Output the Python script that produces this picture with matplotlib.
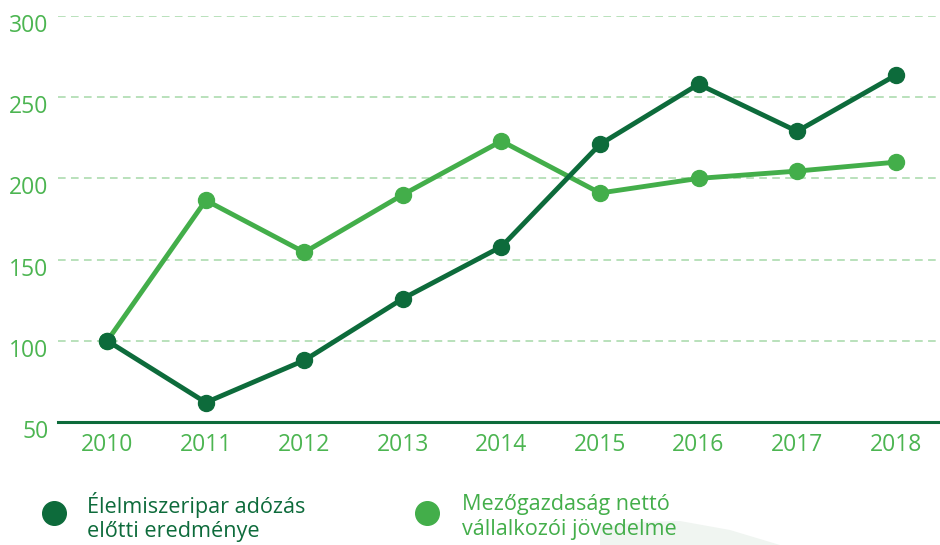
#!/usr/bin/env python3
"""Élelmiszeripar vs. mezőgazdaság index chart (2010 = 100)."""

import matplotlib

matplotlib.use("Agg")
import matplotlib.pyplot as plt  # noqa: E402
from matplotlib.lines import Line2D  # noqa: E402
from matplotlib.patches import Polygon  # noqa: E402
from matplotlib.transforms import ScaledTranslation  # noqa: E402

DARK = "#0d6b3b"
LIGHT = "#43ae4a"
TICK = "#4cb551"
GRID = "#a6d9a8"

years = [2010, 2011, 2012, 2013, 2014, 2015, 2016, 2017, 2018]
elelmiszeripar = [100, 62, 88, 126, 158, 221, 258, 229, 263.5]
mezogazdasag = [100, 186.5, 154.5, 190, 223, 191, 200, 204.5, 210]
y_ticks = [50, 100, 150, 200, 250, 300]
legend_labels = ["Élelmiszeripar adózás\nelőtti eredménye", "Mezőgazdaság nettó\nvállalkozói jövedelme"]

plt.rcParams["font.family"] = ["Open Sans", "DejaVu Sans"]

fig = plt.figure(figsize=(9.4, 5.45), dpi=100)
ax = fig.add_axes((58 / 940, 1 - 422 / 545, 1 - 58 / 940, (422 - 16) / 545))

# faint decorative swoosh behind the legend
fig.add_artist(Polygon(
    [(600 / 940, 1 - 527 / 545), (640 / 940, 1 - 522 / 545), (680 / 940, 1 - 521 / 545),
     (730 / 940, 1 - 530 / 545), (780 / 940, 0), (600 / 940, 0)],
    closed=True, transform=fig.transFigure, fc="#f0f5f1", ec="none", zorder=0,
))

for y in y_ticks[1:]:
    ax.axhline(y, color=GRID, lw=1.1, ls=(0, (5, 3.5)), zorder=1)

ax.plot(years, mezogazdasag, color=LIGHT, lw=3.5, marker="o", ms=11.5, zorder=3,
        solid_joinstyle="round")
ax.plot(years, elelmiszeripar, color=DARK, lw=3.5, marker="o", ms=11.5, zorder=4,
        solid_joinstyle="round")

ax.set_xlim(2009.5, 2018.45)
ax.set_ylim(50, 300)
ax.set_xticks(years)
ax.set_yticks(y_ticks)
ax.patch.set_alpha(0)
for side in ("top", "right", "left"):
    ax.spines[side].set_visible(False)
ax.spines["bottom"].set_color(DARK)
ax.spines["bottom"].set_linewidth(2.2)
ax.tick_params(axis="both", length=0, labelsize=16.5, labelcolor=TICK)
ax.tick_params(axis="x", pad=8)
ax.tick_params(axis="y", pad=7)
shift = ScaledTranslation(0, -7 / 100, fig.dpi_scale_trans)
for lbl in ax.get_yticklabels():
    lbl.set_transform(lbl.get_transform() + shift)

# legend drawn by hand: marker + two-line label
for xm, xt, color, label in zip([54, 427], [87, 462], [DARK, LIGHT], legend_labels):
    fig.add_artist(Line2D([xm / 940], [1 - 513 / 545], transform=fig.transFigure,
                          marker="o", ms=17, color=color, ls="none"))
    fig.text(xt / 940, 1 - 517 / 545, label, color=color, fontsize=15.6,
             ha="left", va="center", linespacing=1.25)

fig.savefig("out.png", dpi=100)
